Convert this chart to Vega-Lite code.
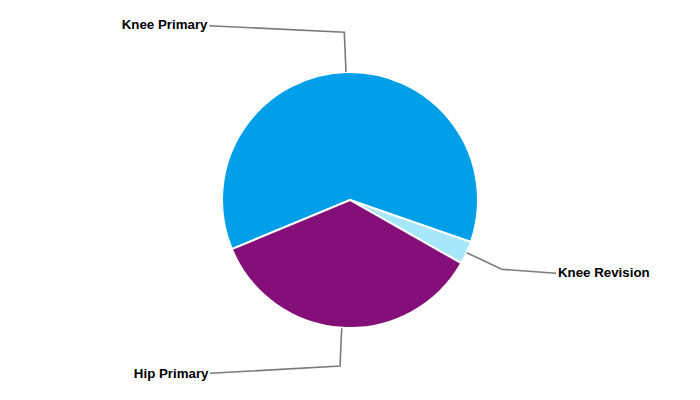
{
  "$schema": "https://vega.github.io/schema/vega-lite/v6.json",
  "width": 700,
  "height": 400,
  "padding": 0,
  "autosize": {"type": "fit", "contains": "padding"},
  "background": "white",
  "config": {"view": {"stroke": null}},
  "datasets": {
    "slices": [
      {"category": "Knee Primary", "share": 61.6, "ord": 1},
      {"category": "Knee Revision", "share": 2.9, "ord": 2},
      {"category": "Hip Primary", "share": 35.5, "ord": 3}
    ],
    "leaders": [
      {"category": "Knee Primary", "pt": 1, "x": -4, "y": 128},
      {"category": "Knee Primary", "pt": 2, "x": -5.7, "y": 167.7},
      {"category": "Knee Primary", "pt": 3, "x": -140.7, "y": 174.3},
      {"category": "Knee Revision", "pt": 1, "x": 116.7, "y": -52.7},
      {"category": "Knee Revision", "pt": 2, "x": 151.7, "y": -69.3},
      {"category": "Knee Revision", "pt": 3, "x": 206, "y": -73.3},
      {"category": "Hip Primary", "pt": 1, "x": -8.3, "y": -128.3},
      {"category": "Hip Primary", "pt": 2, "x": -10, "y": -166},
      {"category": "Hip Primary", "pt": 3, "x": -140, "y": -173.3}
    ],
    "labels": [
      {"category": "Knee Primary", "side": "left", "x": -142.5, "y": 175.5},
      {"category": "Knee Revision", "side": "right", "x": 208, "y": -73.3},
      {"category": "Hip Primary", "side": "left", "x": -141.5, "y": -173.5}
    ]
  },
  "layer": [
    {
      "data": {"name": "slices"},
      "mark": {"type": "arc", "outerRadius": 128, "stroke": "white", "strokeWidth": 2},
      "encoding": {
        "theta": {"field": "share", "type": "quantitative", "stack": true, "scale": {"range": [4.318, 10.6012]}},
        "order": {"field": "ord", "type": "quantitative"},
        "color": {
          "field": "category", "type": "nominal",
          "scale": {"domain": ["Knee Primary", "Knee Revision", "Hip Primary"], "range": ["#009FE8", "#A7E7FB", "#840F79"]},
          "legend": null
        }
      }
    },
    {
      "data": {"name": "leaders"},
      "mark": {"type": "line", "color": "#7A7A7A", "strokeWidth": 1.6},
      "encoding": {
        "x": {"field": "x", "type": "quantitative", "scale": {"domain": [-350, 350], "nice": false, "zero": false}, "axis": null},
        "y": {"field": "y", "type": "quantitative", "scale": {"domain": [-200, 200], "nice": false, "zero": false}, "axis": null},
        "detail": {"field": "category"},
        "order": {"field": "pt", "type": "quantitative"}
      }
    },
    {
      "data": {"name": "labels"},
      "transform": [{"filter": "datum.side == 'left'"}],
      "mark": {"type": "text", "align": "right", "baseline": "middle", "font": "Liberation Sans", "fontSize": 13.3, "fontWeight": "bold", "color": "black"},
      "encoding": {
        "x": {"field": "x", "type": "quantitative", "scale": {"domain": [-350, 350], "nice": false, "zero": false}, "axis": null},
        "y": {"field": "y", "type": "quantitative", "scale": {"domain": [-200, 200], "nice": false, "zero": false}, "axis": null},
        "text": {"field": "category"}
      }
    },
    {
      "data": {"name": "labels"},
      "transform": [{"filter": "datum.side == 'right'"}],
      "mark": {"type": "text", "align": "left", "baseline": "middle", "font": "Liberation Sans", "fontSize": 13.3, "fontWeight": "bold", "color": "black"},
      "encoding": {
        "x": {"field": "x", "type": "quantitative", "scale": {"domain": [-350, 350], "nice": false, "zero": false}, "axis": null},
        "y": {"field": "y", "type": "quantitative", "scale": {"domain": [-200, 200], "nice": false, "zero": false}, "axis": null},
        "text": {"field": "category"}
      }
    }
  ]
}
